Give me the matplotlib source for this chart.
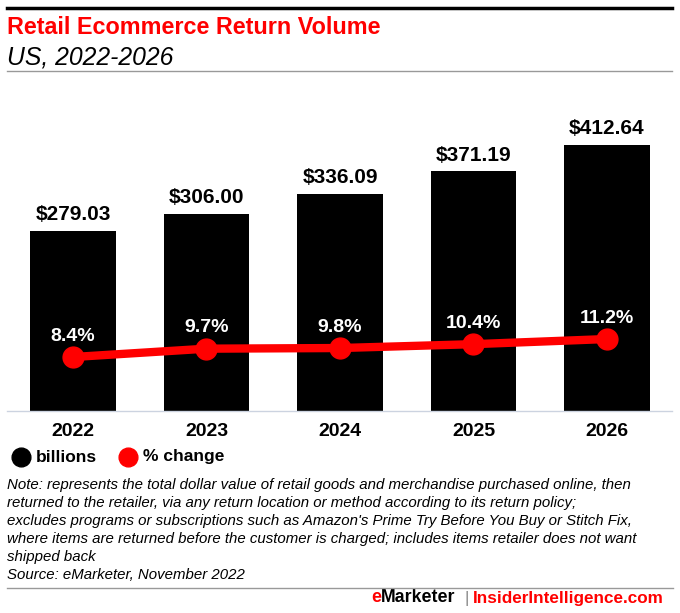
import matplotlib.pyplot as plt
import numpy as np

years = ["2022", "2023", "2024", "2025", "2026"]
billions = [279.03, 306.00, 336.09, 371.19, 412.64]
pct_change = [8.4, 9.7, 9.8, 10.4, 11.2]

RED = "#ff0000"
plt.rcParams["font.family"] = ["Liberation Sans", "DejaVu Sans"]

W, H = 680, 613
fig = plt.figure(figsize=(W / 100, H / 100), dpi=100)


def fx(px):
    return px / W


def fy(py):
    return 1 - py / H


# header
fig.add_artist(plt.Line2D([fx(7), fx(672)], [fy(8), fy(8)], color="black", lw=2.5))
fig.text(fx(7), fy(27), "Retail Ecommerce Return Volume", color=RED,
         fontsize=16.8, fontweight="bold", va="center")
fig.text(fx(7), fy(58), "US, 2022-2026", color="black", fontsize=17.8,
         style="italic", va="center")
fig.add_artist(plt.Line2D([fx(7), fx(672)], [fy(71), fy(71)], color="#999999", lw=1))

# chart
ax = fig.add_axes([fx(7), fy(411), fx(665), (411 - 100) / H])
x = np.arange(len(years))
ax.bar(x, billions, width=0.64, color="black", zorder=2)
for xi, v in zip(x, billions):
    ax.annotate(f"${v:.2f}", (xi, v), xytext=(0, 5), textcoords="offset points",
                ha="center", va="bottom", fontsize=15, fontweight="bold")
ax.set_xlim(-0.494, 4.487)
ax.set_ylim(0, 482)
ax.set_xticks(x)
ax.set_xticklabels(years, fontsize=14, fontweight="bold")
ax.tick_params(axis="x", length=0, pad=9)
ax.set_yticks([])
for s in ["top", "right", "left"]:
    ax.spines[s].set_visible(False)
ax.spines["bottom"].set_color("#ccd3e0")
ax.spines["bottom"].set_linewidth(1)

ax2 = ax.twinx()
ax2.set_ylim(0, 48.4)
ax2.plot(x, pct_change, color=RED, lw=6, marker="o", markersize=15, zorder=3)
for xi, v in zip(x, pct_change):
    ax2.annotate(f"{v:.1f}%", (xi, v), xytext=(0, 9), textcoords="offset points",
                 ha="center", va="bottom", fontsize=14, fontweight="bold",
                 color="white")
ax2.set_yticks([])
for s in ["top", "right", "left", "bottom"]:
    ax2.spines[s].set_visible(False)

# legend
fig.add_artist(plt.Line2D([fx(21)], [fy(457)], marker="o", markersize=13.5,
                          color="black", lw=0))
fig.text(fx(36), fy(457), "billions", fontsize=12.5, fontweight="bold", va="center")
fig.add_artist(plt.Line2D([fx(127.5)], [fy(457)], marker="o", markersize=13.5,
                          color=RED, lw=0))
fig.text(fx(143), fy(457), "% change", fontsize=12.5, fontweight="bold", va="center")

note = ("Note: represents the total dollar value of retail goods and merchandise purchased online, then\n"
        "returned to the retailer, via any return location or method according to its return policy;\n"
        "excludes programs or subscriptions such as Amazon's Prime Try Before You Buy or Stitch Fix,\n"
        "where items are returned before the customer is charged; includes items retailer does not want\n"
        "shipped back\n"
        "Source: eMarketer, November 2022")
fig.text(fx(7), fy(478), note, fontsize=10.85, style="italic", va="top",
         linespacing=1.37)

# footer
fig.add_artist(plt.Line2D([fx(7), fx(673)], [fy(588), fy(588)], color="#999999", lw=1))
fig.text(fx(664), fy(598), "InsiderIntelligence.com", color=RED, fontsize=12.3,
         fontweight="bold", ha="right", va="center")
fig.text(fx(467), fy(598), "|", color="#888888", fontsize=12.3, ha="center", va="center")
t_e = fig.text(fx(371), fy(598), "e", color=RED, fontsize=12.8,
               fontweight="bold", ha="left", va="center")
ax.annotate("Marketer", xy=(1, 0.5), xycoords=t_e, color="black", fontsize=12.8,
            fontweight="bold", ha="left", va="center", annotation_clip=False)

fig.savefig("out.png", dpi=100)
